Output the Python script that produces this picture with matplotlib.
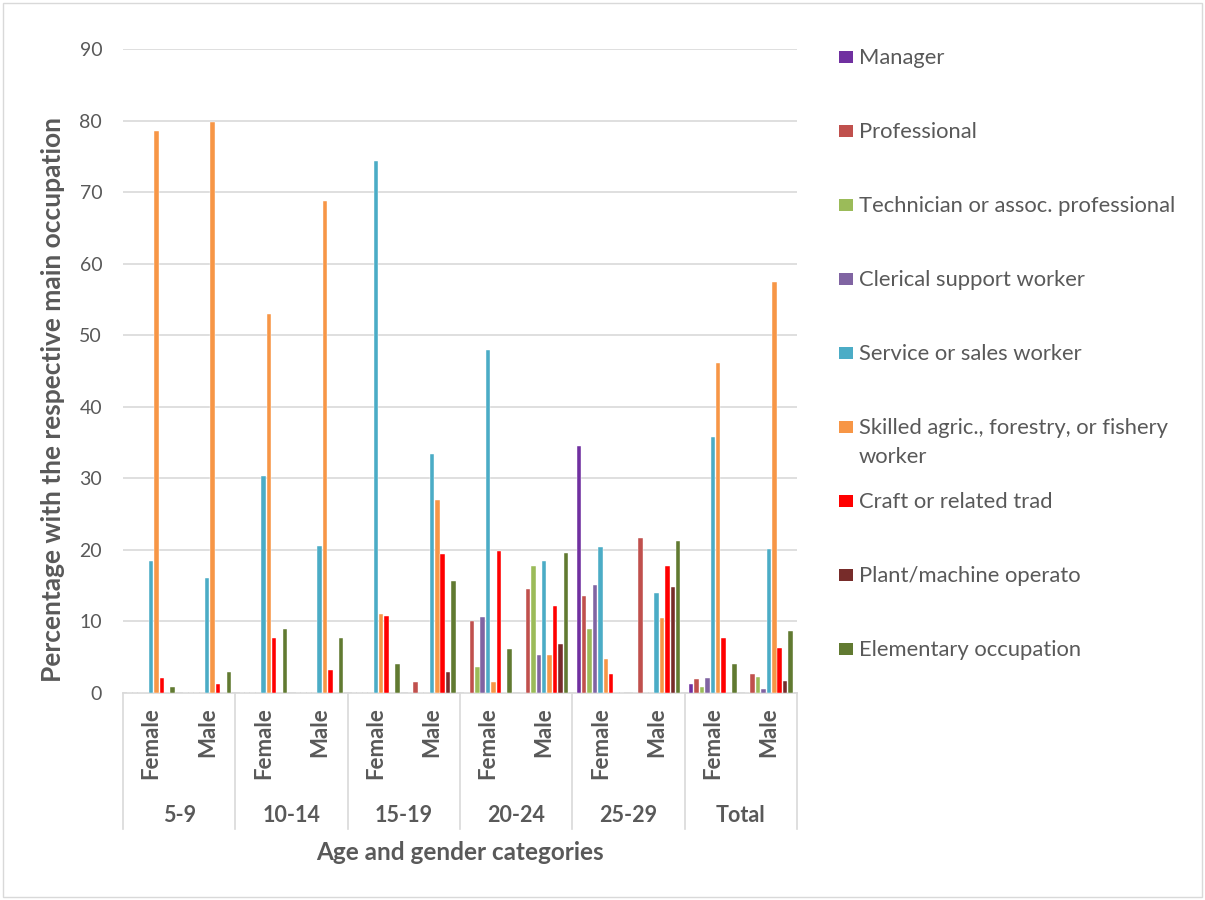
import matplotlib
matplotlib.use("Agg")
import matplotlib.pyplot as plt
import matplotlib.transforms as mtransforms
from matplotlib.patches import Rectangle
import numpy as np

plt.rcParams['font.family'] = ['Lato', 'DejaVu Sans']

age_groups = ["5-9", "10-14", "15-19", "20-24", "25-29", "Total"]
genders = ["Female", "Male"]

occupations = [
    "Manager",
    "Professional",
    "Technician or assoc. professional",
    "Clerical support worker",
    "Service or sales worker",
    "Skilled agric., forestry, or fishery\nworker",
    "Craft or related trad",
    "Plant/machine operato",
    "Elementary occupation",
]
colors = ["#7030A0", "#C0504D", "#9BBB59", "#8064A2", "#4BACC6",
          "#F79646", "#FF0000", "#772C2A", "#617A31"]

# values per category: 5-9 F, 5-9 M, 10-14 F, 10-14 M, ... Total F, Total M
manager      = [0, 0, 0, 0, 0, 0, 0, 0, 34.5, 0, 1.2, 0]
professional = [0, 0, 0, 0, 0, 1.6, 10.1, 14.6, 13.6, 21.6, 2.0, 2.7]
technician   = [0, 0, 0, 0, 0, 0, 3.7, 17.7, 8.9, 0, 0.9, 2.3]
clerical     = [0, 0, 0, 0, 0, 0, 10.6, 5.3, 15.1, 0, 2.1, 0.6]
service      = [18.5, 16.1, 30.3, 20.6, 74.4, 33.4, 48.0, 18.5, 20.4, 14.0, 35.8, 20.1]
skilled      = [78.6, 79.8, 52.9, 68.7, 11.0, 27.0, 1.6, 5.3, 4.7, 10.5, 46.1, 57.5]
craft        = [2.1, 1.3, 7.7, 3.2, 10.7, 19.4, 19.8, 12.2, 2.7, 17.7, 7.7, 6.3]
plant        = [0, 0, 0, 0, 0, 2.9, 0, 6.9, 0, 14.8, 0, 1.7]
elementary   = [0.8, 3.0, 9.0, 7.7, 4.0, 15.6, 6.2, 19.5, 0, 21.2, 4.0, 8.7]

series = [manager, professional, technician, clerical, service,
          skilled, craft, plant, elementary]

W, H = 1205, 900
TXT = "#595959"
fig = plt.figure(figsize=(W / 100, H / 100), dpi=100)

# outer chart frame
fig.patches.append(Rectangle((3 / W, 3 / H), 1 - 6 / W, 1 - 6 / H,
                             transform=fig.transFigure, fill=False,
                             edgecolor="#d9d9d9", linewidth=1))

ax_l, ax_r, ax_t, ax_b = 123, 797, 49, 693
ax = fig.add_axes([ax_l / W, 1 - ax_b / H, (ax_r - ax_l) / W, (ax_b - ax_t) / H])

n_cat = len(age_groups) * len(genders)
x = np.arange(n_cat)
slot = 0.096
bw = 0.08
for j, (vals, col) in enumerate(zip(series, colors)):
    ax.bar(x + (j - 4) * slot, vals, width=bw, color=col, zorder=3,
           edgecolor="white", linewidth=0.3)

ax.set_xlim(-0.5, n_cat - 0.5)
ax.set_ylim(0, 90)
ax.set_yticks(np.arange(0, 91, 10))
ax.yaxis.grid(True, color="#d9d9d9", linewidth=1.2, zorder=0)
ax.set_axisbelow(True)
for s in ["top", "right", "left"]:
    ax.spines[s].set_visible(False)
ax.spines["bottom"].set_color("#d9d9d9")
ax.spines["bottom"].set_linewidth(1.2)
ax.tick_params(axis="y", length=0, labelsize=14, labelcolor=TXT, pad=15)
ax.tick_params(axis="x", length=0)
ax.set_xticks([])

# multi-level category axis
trans = mtransforms.blended_transform_factory(ax.transData, ax.transAxes)
ax_h = ax_b - ax_t
def yfrac(py):
    return (ax_b - py) / ax_h

for k in range(len(age_groups) + 1):
    xb = -0.5 + 2 * k
    ax.plot([xb, xb], [0, yfrac(829)], transform=trans, color="#d9d9d9",
            linewidth=1.2, clip_on=False)

for i in range(n_cat):
    ax.text(x[i], yfrac(707), genders[i % 2], transform=trans, rotation=90,
            ha="center", va="top", fontsize=16, fontweight="bold", color=TXT)

for g, name in enumerate(age_groups):
    ax.text(2 * g + 0.5, yfrac(815), name, transform=trans, ha="center",
            va="center", fontsize=15.5, fontweight="bold", color=TXT)

ax.text(0.5, yfrac(852), "Age and gender categories", transform=ax.transAxes,
        ha="center", va="center", fontsize=17.5, fontweight="bold", color=TXT)

fig.text(53 / W, 1 - 400 / H, "Percentage with the respective main occupation",
         rotation=90, ha="center", va="center", fontsize=19,
         fontweight="bold", color=TXT)

# legend drawn entry by entry
entry_y = [58, 132, 206, 280, 354, 428, 502, 576, 650]
for name, col, py in zip(occupations, colors, entry_y):
    fig.patches.append(Rectangle((839 / W, 1 - (py + 5) / H), 14 / W, 12 / H,
                                 transform=fig.transFigure, facecolor=col,
                                 edgecolor="none"))
    fig.text(859 / W, 1 - (py - 10) / H, name, ha="left", va="top",
             fontsize=15.8, color=TXT, linespacing=1.55)

fig.savefig("out.png", dpi=100)
